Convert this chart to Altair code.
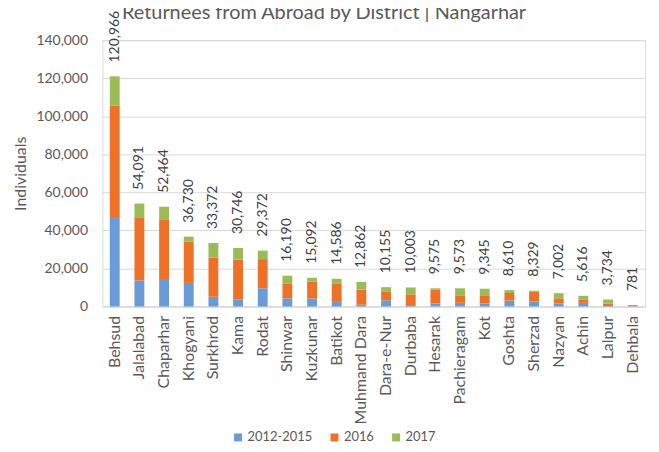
import altair as alt
import pandas as pd

districts = ["Behsud", "Jalalabad", "Chaparhar", "Khogyani", "Surkhrod", "Kama", "Rodat",
             "Shinwar", "Kuzkunar", "Batikot", "Muhmand Dara", "Dara-e-Nur", "Durbaba",
             "Hesarak", "Pachieragam", "Kot", "Goshta", "Sherzad", "Nazyan", "Achin",
             "Lalpur", "Dehbala"]
totals = [120966, 54091, 52464, 36730, 33372, 30746, 29372, 16190, 15092, 14586, 12862,
          10155, 10003, 9575, 9573, 9345, 8610, 8329, 7002, 5616, 3734, 781]
v_2012_2015 = [47000, 13700, 14500, 12400, 5100, 3700, 9600, 4300, 4200, 2400, 900,
               3300, 300, 1600, 1900, 1600, 3100, 2600, 1600, 1900, 300, 100]
v_2016 = [58500, 33200, 31300, 21600, 20700, 20900, 15300, 7900, 9000, 9800, 8100,
          4700, 6100, 7400, 4000, 4300, 4000, 5100, 2700, 1600, 1300, 600]
v_2017 = [t - a - b for t, a, b in zip(totals, v_2012_2015, v_2016)]

series = ["2012-2015", "2016", "2017"]
colors = ["#6b9bd6", "#ed7228", "#9bbb59"]
y_ticks = [0, 20000, 40000, 60000, 80000, 100000, 120000, 140000]

rows = []
for i, d in enumerate(districts):
    for k, vals in enumerate([v_2012_2015, v_2016, v_2017]):
        rows.append({"District": d, "Series": series[k], "Value": vals[i], "Order": k})
df = pd.DataFrame(rows)
tot = pd.DataFrame({"District": districts, "Total": totals})

FONT = "Lato"
GRAY = "#595959"

xaxis = alt.Axis(title=None, labelAngle=270, labelFontSize=16, labelColor=GRAY,
                 labelFont=FONT, ticks=False, labelPadding=9, domainColor="#d9d9d9")
xscale = alt.Scale(paddingInner=0.6, paddingOuter=0.3)
yscale = alt.Scale(domain=[0, 140000], nice=False)
yaxis = alt.Axis(title="Individuals", values=y_ticks, format=",",
                 labelExpr="format(datum.value, ',')", labelFontSize=14,
                 labelColor=GRAY, labelFont=FONT, ticks=False, domain=False,
                 labelPadding=15, gridColor="#d9d9d9", titleFont=FONT, titleFontSize=16,
                 titleFontWeight="normal", titleColor=GRAY, titlePadding=7)

bars = alt.Chart(df).mark_bar().encode(
    x=alt.X("District:N", sort=districts, scale=xscale, axis=xaxis),
    y=alt.Y("Value:Q", stack="zero", scale=yscale, axis=yaxis),
    color=alt.Color("Series:N", sort=series,
                    scale=alt.Scale(domain=series, range=colors),
                    legend=alt.Legend(title=None, orient="none", direction="horizontal",
                                      legendX=130, legendY=393, symbolType="square",
                                      symbolSize=64, symbolStrokeWidth=0,
                                      labelFontSize=13, labelFont=FONT, labelColor=GRAY,
                                      columnPadding=15, labelOffset=3)),
    order=alt.Order("Order:Q", sort="ascending"),
)

labels = alt.Chart(tot).mark_text(angle=270, align="left", baseline="middle", dx=14,
                                  fontSize=14, font=FONT, color="#404040").encode(
    x=alt.X("District:N", sort=districts, scale=xscale, axis=xaxis),
    y=alt.Y("Total:Q", scale=yscale, axis=yaxis),
    text=alt.Text("Total:Q", format=","),
)

chart = alt.layer(bars, labels).properties(
    width=546, height=268,
    autosize=alt.AutoSizeParams(type="none"),
    padding={"left": 95, "top": 31, "right": 6, "bottom": 137},
    title=alt.Title("Returnees from Abroad by District | Nangarhar", fontSize=20,
                    font=FONT, fontWeight="normal", color=GRAY, anchor="middle",
                    dx=-50, dy=12, offset=0),
).configure_view(stroke=None).configure(numberFormat=",")

chart.save("out.html", embed_options={"renderer": "svg", "actions": False})
